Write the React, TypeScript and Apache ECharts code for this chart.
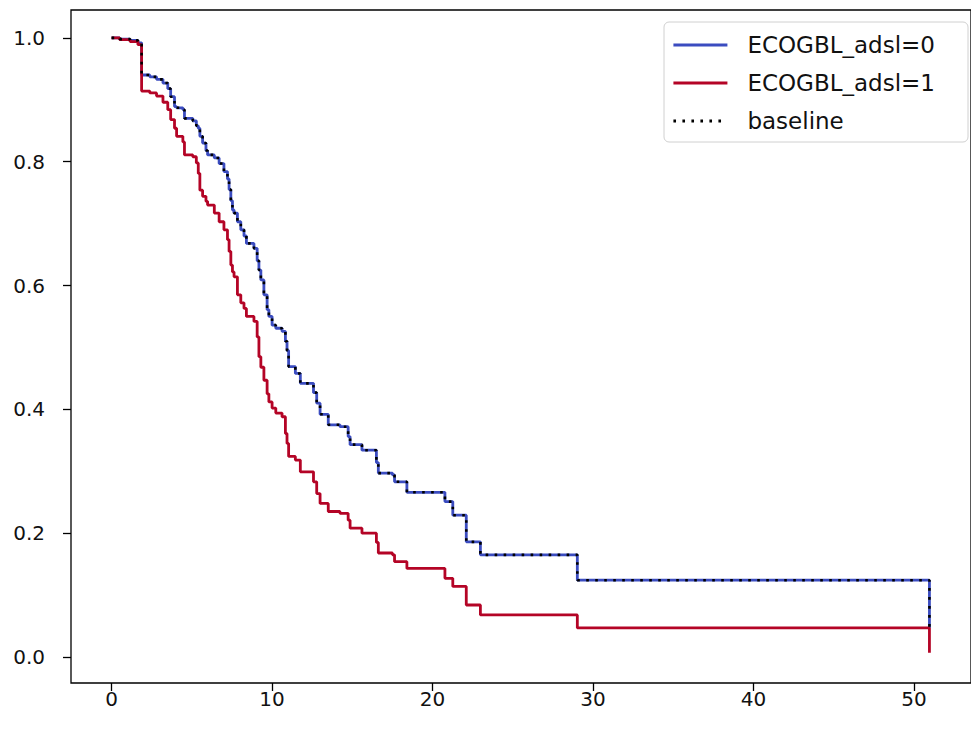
import React, { useEffect, useRef } from "react";
import * as echarts from "echarts";

// Event times (months) shared by both predicted survival curves
const TIMES = [
  0, 0.5, 1.15, 1.64, 1.87, 2.38, 2.8, 3.2, 3.5, 3.68, 3.92, 4.05, 4.44, 4.54,
  5.06, 5.28, 5.4, 5.5, 5.67, 5.88, 5.98, 6.4, 6.7, 7.0, 7.22, 7.32, 7.43, 7.53,
  7.63, 7.84, 8.05, 8.25, 8.4, 8.87, 9.07, 9.18, 9.3, 9.49, 9.69, 9.8, 10.0,
  10.23, 10.62, 10.83, 10.93, 11.03, 11.45, 11.76, 12.58, 12.78, 12.99, 13.5,
  14.23, 14.74, 14.86, 15.6, 16.5, 16.62, 17.5, 17.63, 18.4, 20.77, 21.26, 22.1,
  22.98, 29.02, 50.96,
];

// Survival for ECOGBL_adsl = 0
const SURV_ECOG0 = [
  1.0, 0.998, 0.996, 0.992, 0.94, 0.937, 0.933, 0.927, 0.918, 0.905, 0.889,
  0.887, 0.884, 0.87, 0.866, 0.858, 0.854, 0.841, 0.83, 0.818, 0.811, 0.806,
  0.797, 0.784, 0.772, 0.755, 0.737, 0.722, 0.717, 0.703, 0.69, 0.68, 0.668,
  0.66, 0.64, 0.625, 0.609, 0.585, 0.561, 0.55, 0.536, 0.531, 0.526, 0.51,
  0.495, 0.469, 0.458, 0.442, 0.427, 0.41, 0.392, 0.375, 0.372, 0.356, 0.343,
  0.334, 0.314, 0.297, 0.294, 0.283, 0.266, 0.251, 0.229, 0.186, 0.165, 0.124,
  0.047,
];

// Survival for ECOGBL_adsl = 1
const SURV_ECOG1 = [
  1.0, 0.997, 0.994, 0.989, 0.914, 0.911, 0.906, 0.896, 0.884, 0.868, 0.854,
  0.841, 0.832, 0.811, 0.808, 0.798, 0.781, 0.754, 0.744, 0.736, 0.73, 0.717,
  0.703, 0.69, 0.674, 0.655, 0.633, 0.622, 0.614, 0.585, 0.572, 0.563, 0.55,
  0.542, 0.517, 0.485, 0.468, 0.447, 0.425, 0.412, 0.402, 0.394, 0.388, 0.361,
  0.345, 0.324, 0.318, 0.299, 0.283, 0.264, 0.248, 0.235, 0.232, 0.221, 0.208,
  0.2, 0.185, 0.168, 0.165, 0.154, 0.143, 0.127, 0.114, 0.084, 0.068, 0.047,
  0.007,
];

// Baseline survival (identical to the ECOGBL_adsl = 0 curve)
const SURV_BASELINE = SURV_ECOG0;

const X_TICKS = [0, 10, 20, 30, 40, 50];
const Y_TICKS = [0, 0.2, 0.4, 0.6, 0.8, 1.0];

const FONT = "DejaVu Sans";

const pairs = (ys: number[]) => TIMES.map((t, i) => [t, ys[i]]);

export default function App() {
  const ref = useRef<HTMLDivElement>(null);

  useEffect(() => {
    if (!ref.current) return;
    const chart = echarts.init(ref.current, undefined, { renderer: "svg" });
    const tickLine = { color: "#000", width: 1.3 };
    chart.setOption({
      animation: false,
      backgroundColor: "#ffffff",
      grid: {
        left: 71,
        top: 10,
        right: -7,
        bottom: 46,
        show: true,
        borderColor: "#000",
        borderWidth: 1.3,
        containLabel: false,
      },
      xAxis: {
        type: "value",
        min: -2.53,
        max: 53.55,
        splitLine: { show: false },
        axisLine: { show: false, onZero: false },
        axisTick: {
          show: true,
          length: 8,
          lineStyle: tickLine,
          customValues: X_TICKS,
        },
        axisLabel: {
          customValues: X_TICKS,
          color: "#111",
          fontFamily: FONT,
          fontSize: 20,
          margin: 6,
        },
      },
      yAxis: {
        type: "value",
        min: -0.042,
        max: 1.045,
        splitLine: { show: false },
        axisLine: { show: false, onZero: false },
        axisTick: {
          show: true,
          length: 8,
          lineStyle: tickLine,
          customValues: Y_TICKS,
        },
        axisLabel: {
          customValues: Y_TICKS,
          color: "#111",
          fontFamily: FONT,
          fontSize: 20,
          margin: 26,
          formatter: (v: number) => v.toFixed(1),
        },
      },
      legend: {
        orient: "vertical",
        right: 3,
        top: 22,
        padding: [11, 33, 9, 8],
        itemWidth: 54,
        itemHeight: 14,
        itemGap: 14,
        borderColor: "#d0d0d0",
        borderWidth: 1,
        borderRadius: 5,
        backgroundColor: "rgba(255,255,255,0.8)",
        itemStyle: { opacity: 0 },
        lineStyle: { width: 2.8 },
        textStyle: {
          fontFamily: FONT,
          fontSize: 23,
          lineHeight: 24,
          color: "#111",
          padding: [0, 0, 0, 15],
        },
        data: ["ECOGBL_adsl=0", "ECOGBL_adsl=1", "baseline"],
      },
      series: [
        {
          name: "ECOGBL_adsl=0",
          type: "line",
          step: "end",
          symbol: "none",
          data: pairs(SURV_ECOG0),
          lineStyle: { color: "#3b4cc0", width: 2.8 },
          itemStyle: { color: "#3b4cc0" },
        },
        {
          name: "ECOGBL_adsl=1",
          type: "line",
          step: "end",
          symbol: "none",
          data: pairs(SURV_ECOG1),
          lineStyle: { color: "#b40426", width: 2.8 },
          itemStyle: { color: "#b40426" },
        },
        {
          name: "baseline",
          type: "line",
          step: "end",
          symbol: "none",
          data: pairs(SURV_BASELINE),
          lineStyle: { color: "#000", width: 2.6, type: [2.6, 6.4], cap: "butt" },
          itemStyle: { color: "#000" },
        },
      ],
    });
    return () => chart.dispose();
  }, []);

  return (
    <div
      ref={ref}
      style={{ position: "fixed", left: 0, top: 0, width: 971, height: 729 }}
    />
  );
}
